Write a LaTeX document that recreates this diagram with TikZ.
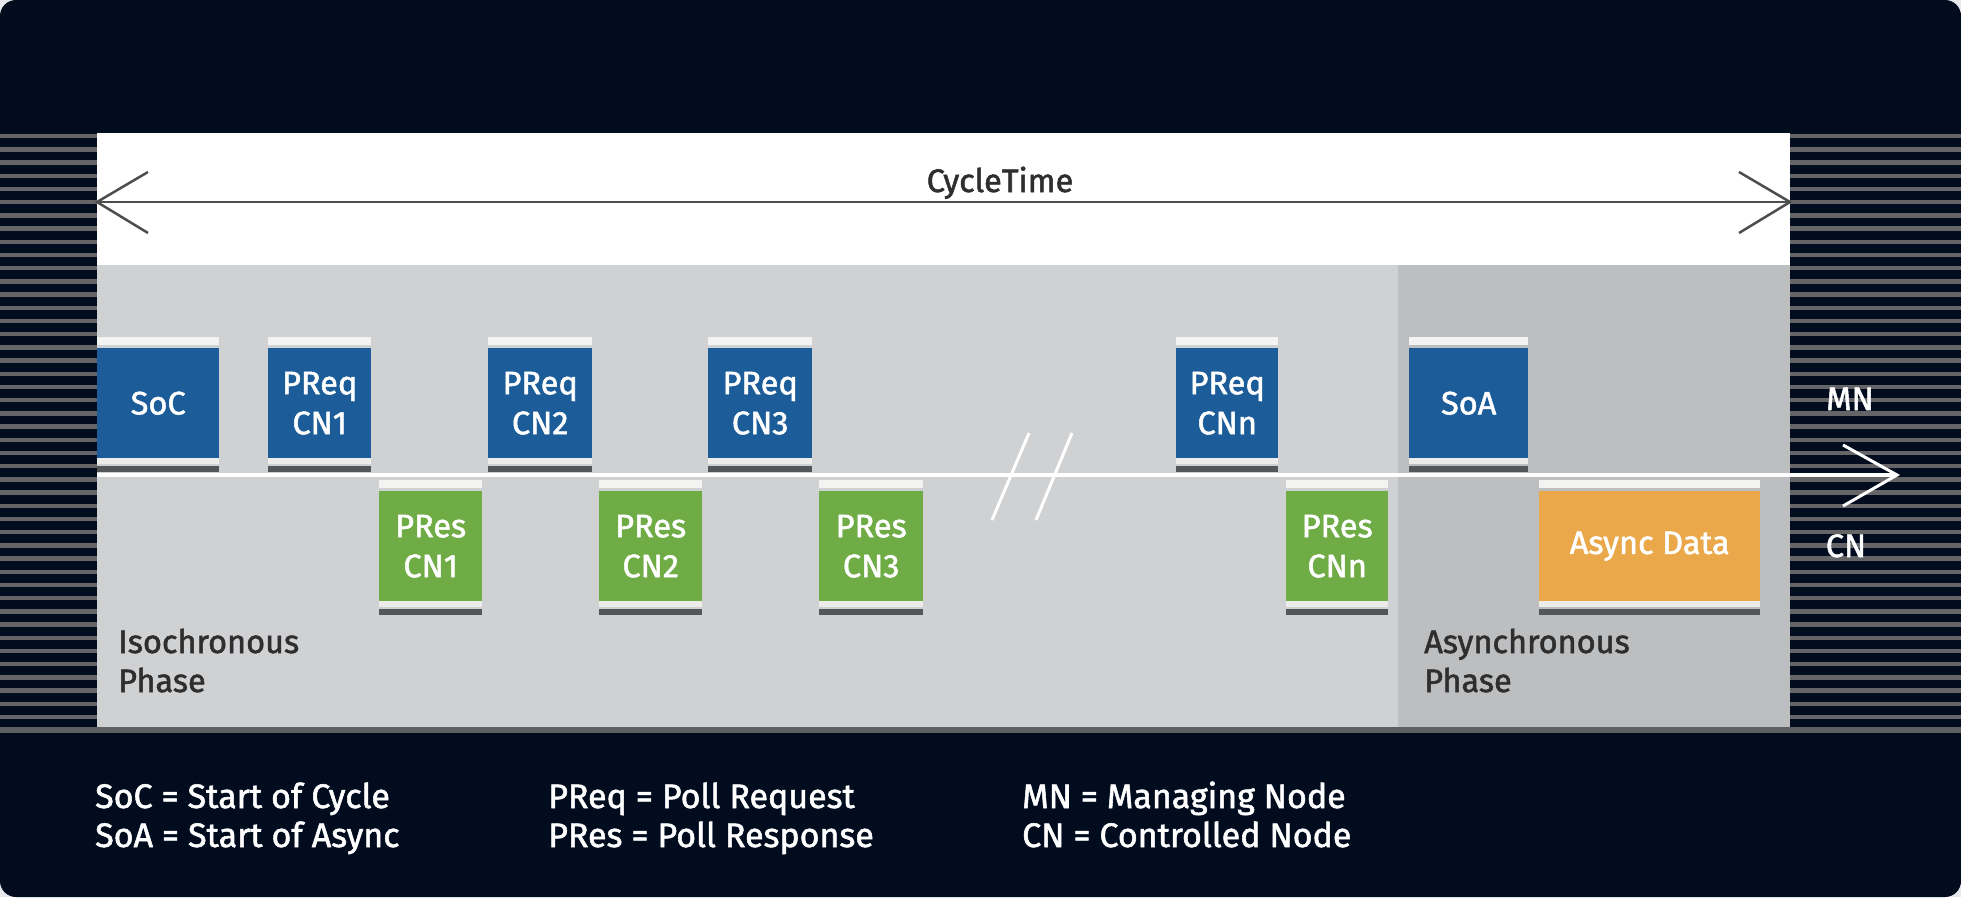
\documentclass[tikz,border=0pt]{standalone}
\usepackage{fontspec}
\setmainfont{Fira Sans}[FakeBold=1.6]
\definecolor{navy}{HTML}{010D1F}
\definecolor{pagebg}{HTML}{E6E8EB}
\definecolor{stripe}{HTML}{656567}
\definecolor{isogray}{HTML}{D0D1D3}
\definecolor{asyncgray}{HTML}{BDBEC0}
\definecolor{mnblue}{HTML}{1C5D99}
\definecolor{cngreen}{HTML}{6FAC46}
\definecolor{asyorange}{HTML}{EAA84B}
\definecolor{capbar}{HTML}{F3F3F1}
\definecolor{lowbar}{HTML}{ECECEA}
\definecolor{darkbar}{HTML}{555657}
\definecolor{edgegray}{HTML}{5E6062}
\definecolor{textdark}{HTML}{2E2E2E}
\definecolor{arrowgray}{HTML}{4D4D4D}
\newcommand\pktbox[6]{%
  \fill[capbar] (#2,#4) rectangle (#3,#4+8);
  \node[pkt, fill=#5, minimum width={#3-#2}, anchor=north west] (#1) at (#2,#4+11) {#6};
  \fill[lowbar] (#2,#4+121) rectangle (#3,#4+127);
  \fill[darkbar] (#2,#4+129) rectangle (#3,#4+135);
}
\begin{document}
\begin{tikzpicture}[x=1pt,y=-1pt,
  pkt/.style={inner sep=0pt, minimum height=110pt, text=white, align=center,
    font=\fontsize{32.5}{40}\selectfont},
  lbl/.style={inner sep=0pt, text=textdark, font=\fontsize{32.5}{40}\selectfont},
  wlbl/.style={inner sep=0pt, text=white, font=\fontsize{32.5}{40}\selectfont},
  legend/.style={inner sep=0pt, text=white, font=\fontsize{34}{40}\selectfont, anchor=base west}]
\useasboundingbox (0,0) rectangle (1961,897);
\fill[pagebg] (0,0) rectangle (1961,897);
\fill[navy, rounded corners=16pt] (0,0) rectangle (1961,897);
% stripes
\foreach \i in {0,...,44} {
  \fill[stripe] (0,{134+13.2*\i}) rectangle (97,{138.3+13.2*\i});
  \fill[stripe] (1790,{134+13.2*\i}) rectangle (1961,{138.3+13.2*\i});
}
\fill[edgegray] (0,727) rectangle (1961,733);
% bands
\fill[white] (97,133) rectangle (1790,265);
\fill[isogray] (97,265) rectangle (1398,727);
\fill[asyncgray] (1398,265) rectangle (1790,727);
% cycle time arrow
\coordinate (ctl) at (97,202);
\coordinate (ctr) at (1790,202);
\draw[arrowgray, line width=2.5pt] (ctl) -- (ctr);
\draw[arrowgray, line width=2.5pt] ([shift={(51,-30)}]ctl) -- (ctl) -- ([shift={(51,31)}]ctl);
\draw[arrowgray, line width=2.5pt] ([shift={(-51,-30)}]ctr) -- (ctr) -- ([shift={(-51,31)}]ctr);
\node[lbl, anchor=base] (ct) at (1000,192) {CycleTime};
% timeline
\coordinate (tls) at (97,475);
\coordinate (tle) at (1897,475);
\draw[white, line width=3.5pt] (tls) -- (tle);
\draw[white, line width=3pt] ([shift={(-54,-30)}]tle) -- (tle) -- ([shift={(-54,31)}]tle);
% break marks
\coordinate (b1a) at (992,520); \coordinate (b1b) at (1029,433);
\coordinate (b2a) at (1036,520); \coordinate (b2b) at (1072,433);
\draw[white, line width=3pt] (b1a) -- (b1b);
\draw[white, line width=3pt] (b2a) -- (b2b);
% packets
\pktbox{soc}{97}{219}{337}{mnblue}{SoC}
\pktbox{preq1}{268}{371}{337}{mnblue}{PReq\\CN1}
\pktbox{pres1}{379}{482}{480}{cngreen}{PRes\\CN1}
\pktbox{preq2}{488}{592}{337}{mnblue}{PReq\\CN2}
\pktbox{pres2}{599}{702}{480}{cngreen}{PRes\\CN2}
\pktbox{preq3}{708}{812}{337}{mnblue}{PReq\\CN3}
\pktbox{pres3}{819}{923}{480}{cngreen}{PRes\\CN3}
\pktbox{preqn}{1176}{1278}{337}{mnblue}{PReq\\CNn}
\pktbox{presn}{1286}{1388}{480}{cngreen}{PRes\\CNn}
\pktbox{soa}{1409}{1528}{337}{mnblue}{SoA}
\pktbox{async}{1539}{1760}{480}{asyorange}{Async Data}
% phase labels
\node[lbl, anchor=base west] (iso1) at (118,653) {Isochronous};
\node[lbl, anchor=base west] (iso2) at (118,692) {Phase};
\node[lbl, anchor=base west] (asy1) at (1424,653) {Asynchronous};
\node[lbl, anchor=base west] (asy2) at (1424,692) {Phase};
% MN / CN
\node[wlbl, anchor=base] (mn) at (1850,410) {MN};
\node[wlbl, anchor=base] (cn) at (1846,557) {CN};
% legend
\node[legend] (l1) at (95,808) {SoC = Start of Cycle};
\node[legend] (l2) at (95,847) {SoA = Start of Async};
\node[legend] (l3) at (548,808) {PReq = Poll Request};
\node[legend] (l4) at (548,847) {PRes = Poll Response};
\node[legend] (l5) at (1022,808) {MN = Managing Node};
\node[legend] (l6) at (1022,847) {CN = Controlled Node};
\end{tikzpicture}
\end{document}
